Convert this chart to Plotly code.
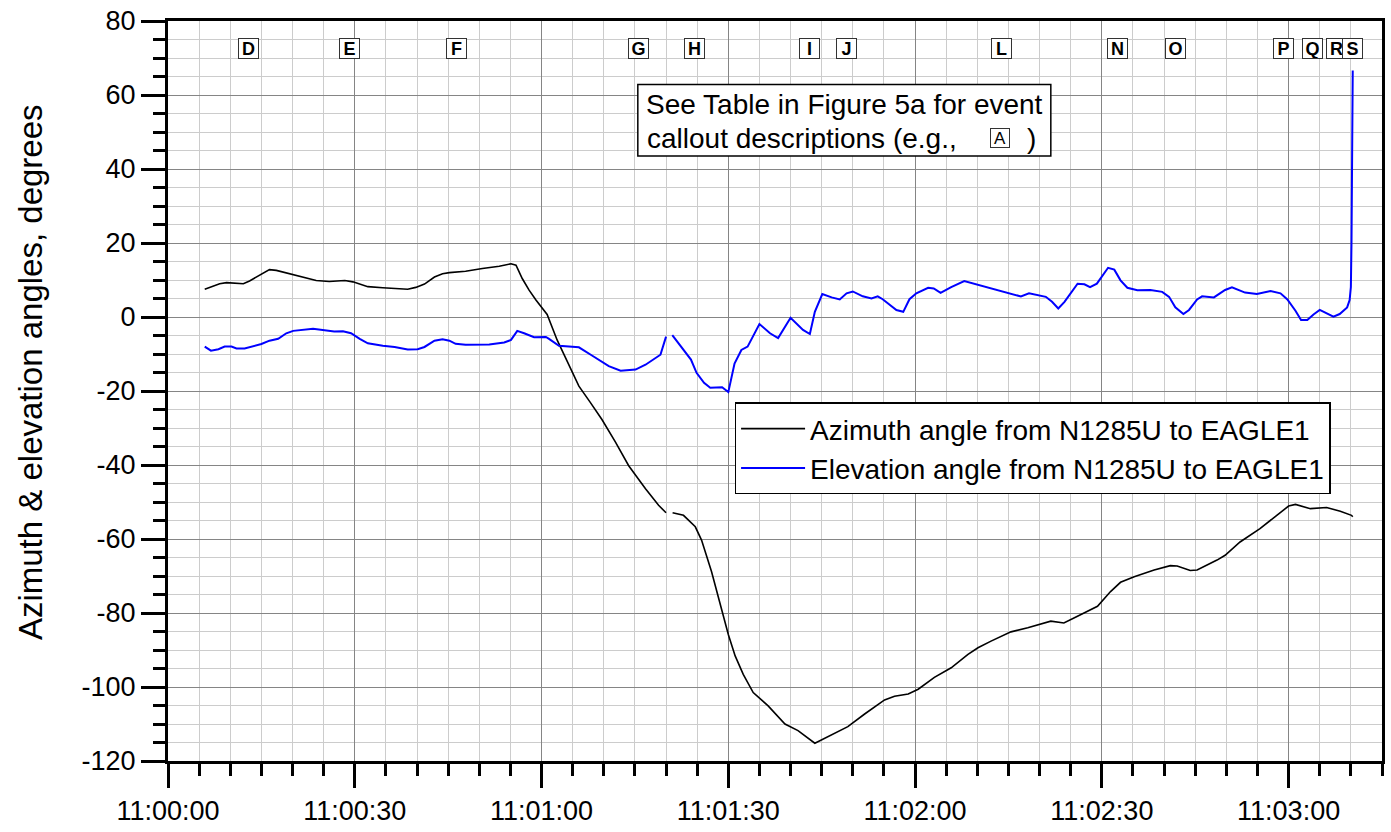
import pandas as pd
import plotly.graph_objects as go

# ---------------- data (seconds after 11:00:00, degrees) ----------------
az_t = [5.9, 8.3, 9.4, 12.1, 13.1, 15.0, 16.3, 17.4, 20.1, 23.8, 25.9, 28.4, 29.7,
        32.1, 34.5, 36.6, 38.5, 39.8, 41.2, 42.8, 44.1, 45.2, 47.8, 50.5, 53.2,
        55.1, 55.9, 56.9, 58.0, 59.1, 60.9, 62.5, 64.4, 66.0, 67.8, 69.7, 71.9,
        74.0, 76.7, 78.8, 80.0, 80.5, 81.05, 82.8, 84.7, 85.7, 87.3, 89.2, 90.0,
        91.1, 92.4, 94.0, 96.4, 99.1, 101.2, 103.9, 106.6, 109.2, 111.9, 115.1,
        116.7, 118.9, 120.5, 123.1, 125.8, 128.5, 130.1, 132.2, 135.4, 138.1,
        141.8, 143.9, 145.6, 149.3, 151.4, 153.0, 155.2, 158.4, 161.0, 162.1,
        164.2, 165.3, 168.5, 169.8, 172.2, 175.4, 178.1, 180.0, 181.1, 183.5,
        186.1, 188.3, 190.1, 190.3]
az_deg = [7.5, 9.0, 9.3, 9.0, 9.75, 11.7, 12.8, 12.6, 11.5, 9.85, 9.6, 9.85, 9.5,
          8.2, 7.9, 7.7, 7.5, 8.0, 8.9, 10.8, 11.7, 12.0, 12.35, 13.1, 13.7,
          14.4, 14.0, 10.4, 7.25, 4.6, 0.7, -6.2, -12.9, -18.7, -23.0, -27.7, -33.9,
          -40.2, -46.4, -50.9, -52.9, None, -52.9, -53.6, -56.7, -60.3, -68.8, -80.5, -85.8,
          -91.6, -96.6, -101.5, -105.1, -110.0, -111.8, -115.2, -112.8, -110.7, -107.3, -103.5,
          -102.5, -101.9, -100.6, -97.4, -94.8, -91.2, -89.4, -87.6, -85.1, -84.0,
          -82.2, -82.7, -81.3, -78.2, -74.2, -71.7, -70.2, -68.4, -67.2, -67.3,
          -68.5, -68.4, -65.7, -64.4, -60.8, -57.2, -53.6, -51.1, -50.65, -51.8,
          -51.5, -52.5, -53.6, -54.0]

el_t = [5.9, 6.9, 8.1, 9.1, 10.2, 11.0, 12.3, 13.7, 15.0, 16.3, 17.7, 19.0, 20.1,
        23.3, 24.9, 26.7, 28.1, 29.4, 30.8, 32.1, 34.5, 36.4, 38.5, 40.1, 41.2,
        42.8, 44.1, 45.2, 46.2, 47.8, 51.6, 54.0, 55.1, 56.1, 57.2, 58.8, 60.7,
        61.2, 62.8, 66.0, 68.1, 70.8, 72.7, 75.1, 76.7, 79.1, 80.0, 80.5, 81.0,
        82.3, 84.0, 84.9, 86.1, 87.1, 89.0, 90.0, 91.0, 92.1, 93.1, 95.0, 96.7,
        98.0, 100.0, 102.0, 103.1, 103.9, 105.1, 106.6, 107.9, 109.0, 110.0, 111.6,
        113.0, 114.0, 114.8, 117.0, 118.1, 119.1, 120.2, 122.1, 123.0, 124.1, 125.8,
        127.9, 130.1, 133.3, 137.0, 138.3, 141.0, 142.0, 143.0, 144.0, 146.1, 147.2,
        148.1, 149.2, 151.0, 152.0, 153.0, 154.1, 155.7, 157.8, 159.7, 160.8, 161.8,
        163.1, 164.0, 165.3, 166.1, 168.0, 169.8, 170.9, 173.0, 174.9, 177.1, 178.7,
        179.8, 181.1, 182.0, 183.0, 184.0, 185.0, 186.1, 187.2, 188.2, 189.4, 189.8,
        190.0, 190.1, 190.2, 190.3]
el_deg = [-8.0, -9.1, -8.7, -8.0, -8.0, -8.5, -8.5, -7.8, -7.3, -6.4, -5.9, -4.4, -3.75,
          -3.2, -3.5, -3.9, -3.85, -4.4, -5.9, -7.1, -7.8, -8.1, -8.8, -8.7, -8.1,
          -6.4, -6.0, -6.4, -7.25, -7.5, -7.4, -6.9, -6.2, -3.75, -4.4, -5.45, -5.4,
          -5.9, -7.8, -8.2, -10.4, -13.3, -14.5, -14.2, -12.9, -10.2, -5.3, None, -4.9,
          -7.8, -11.5, -15.1, -17.8, -19.1, -19.0, -20.3, -12.6, -8.9, -8.0, -1.9, -4.4,
          -5.7, -0.2, -3.5, -4.6, 1.4, 6.2, 5.3, 4.75, 6.4, 6.9, 5.6,
          5.0, 5.6, 4.8, 1.9, 1.4, 4.8, 6.4, 7.9, 7.7, 6.5, 8.1,
          9.7, 8.7, 7.1, 5.55, 6.4, 5.45, 4.1, 2.3, 4.1, 9.0, 8.85,
          8.1, 9.0, 13.3, 12.8, 9.9, 7.9, 7.25, 7.3, 6.8, 5.45, 2.6,
          0.8, 1.9, 4.75, 5.6, 5.3, 7.3, 8.05, 6.6, 6.2, 7.0, 6.4,
          4.75, 1.7, -0.8, -0.8, 0.7, 1.9, 1.1, 0.1, 0.8, 2.6, 4.6,
          8.1, 20.0, 45.0, 66.6]

callout_labels = ["D", "E", "F", "G", "H", "I", "J", "L", "N", "O", "P", "Q", "R", "S"]
callout_t = [13.0, 29.1, 46.4, 75.5, 84.5, 103.1, 109.0, 133.9, 152.5, 161.9,
             179.2, 183.9, 187.7, 190.2]
callout_level = 72.5

y_tickvals = [-120, -100, -80, -60, -40, -20, 0, 20, 40, 60, 80]
y_ticktext = ["-120", "-100", "-80", "-60", "-40", "-20", "0", "20", "40", "60", "80"]

base = pd.Timestamp("2000-01-01 11:00:00")
def to_time(secs):
    return [base + pd.Timedelta(seconds=s) for s in secs]

FONT = "Arial, Liberation Sans, sans-serif"

fig = go.Figure()
fig.add_trace(go.Scatter(x=to_time(az_t), y=az_deg, mode="lines",
                         line=dict(color="#000000", width=1.6),
                         name="Azimuth angle from N1285U to EAGLE1",
                         connectgaps=False))
fig.add_trace(go.Scatter(x=to_time(el_t), y=el_deg, mode="lines",
                         line=dict(color="#0000ff", width=2),
                         name="Elevation angle from N1285U to EAGLE1",
                         connectgaps=False))

# event callout letters
for lab, t in zip(callout_labels, callout_t):
    fig.add_annotation(x=base + pd.Timedelta(seconds=t), y=callout_level,
                       xref="x", yref="y", text="<b>%s</b>" % lab, showarrow=False,
                       font=dict(family=FONT, size=18, color="black"),
                       bgcolor="white", bordercolor="#333333", borderwidth=1,
                       borderpad=0, width=19, height=19, xanchor="center", yanchor="middle")

# note box (frame + separate text pieces)
fig.add_shape(type="rect", xref="paper", yref="paper",
              x0=0.3870, x1=0.7272, y0=0.8174, y1=0.9141,
              line=dict(color="black", width=1.5), fillcolor="white", layer="above")
fig.add_annotation(x=0.5571, y=0.8872, xref="paper", yref="paper",
                   text="See Table in Figure 5a for event", showarrow=False,
                   font=dict(family=FONT, size=28, color="black"),
                   xanchor="center", yanchor="middle")
fig.add_annotation(x=0.6516, y=0.8416, xref="paper", yref="paper",
                   text="callout descriptions (e.g.,", showarrow=False,
                   font=dict(family=FONT, size=28, color="black"),
                   xanchor="right", yanchor="middle")
fig.add_annotation(x=0.6855, y=0.8416, xref="paper", yref="paper",
                   text="A", showarrow=False, font=dict(family=FONT, size=17, color="black"),
                   bgcolor="white", bordercolor="#333333", borderwidth=1, borderpad=0,
                   width=18, height=18, xanchor="center", yanchor="middle")
fig.add_annotation(x=0.7116, y=0.8416, xref="paper", yref="paper",
                   text=")", showarrow=False,
                   font=dict(family=FONT, size=28, color="black"),
                   xanchor="center", yanchor="middle")

# y-axis title (rotated text placed left of the tick labels)
fig.add_annotation(x=-0.1134, y=0.526, xref="paper", yref="paper",
                   text="Azimuth & elevation angles, degrees", textangle=-90,
                   showarrow=False, font=dict(family=FONT, size=33, color="black"),
                   xanchor="center", yanchor="middle")

fig.update_layout(
    width=1391, height=832,
    margin=dict(l=168, r=6, t=19, b=68),
    paper_bgcolor="white", plot_bgcolor="white",
    font=dict(family=FONT, size=27, color="black"),
    showlegend=True,
    legend=dict(x=0.4667, y=0.4846, xanchor="left", yanchor="top",
                bgcolor="white", bordercolor="black", borderwidth=1.5,
                font=dict(family=FONT, size=28, color="black"),
                itemwidth=64),
    xaxis=dict(
        type="date",
        range=[base, base + pd.Timedelta(seconds=195)],
        tick0=base, dtick=30000, tickformat="%H:%M:%S",
        ticks="outside", ticklen=24, tickwidth=3, tickcolor="black",
        showline=True, linewidth=3, linecolor="black", mirror=True,
        showgrid=True, gridcolor="#858585", gridwidth=1.3,
        zeroline=False,
        tickfont=dict(family=FONT, size=27, color="black"),
        minor=dict(dtick=5000, tick0=base, ticks="outside", ticklen=12, tickwidth=3,
                   tickcolor="black", showgrid=True, gridcolor="#cccccc", gridwidth=1),
    ),
    yaxis=dict(
        range=[-120, 80], tickmode="array", tickvals=y_tickvals, ticktext=y_ticktext,
        ticks="outside", ticklen=24, tickwidth=3, tickcolor="black",
        showline=True, linewidth=3, linecolor="black", mirror=True,
        showgrid=True, gridcolor="#858585", gridwidth=1.3,
        zeroline=False,
        tickfont=dict(family=FONT, size=27, color="black"),
        minor=dict(dtick=5, tick0=0, ticks="outside", ticklen=12, tickwidth=3,
                   tickcolor="black", showgrid=True, gridcolor="#cccccc", gridwidth=1),
    ),
)

fig.write_html("out.html")
